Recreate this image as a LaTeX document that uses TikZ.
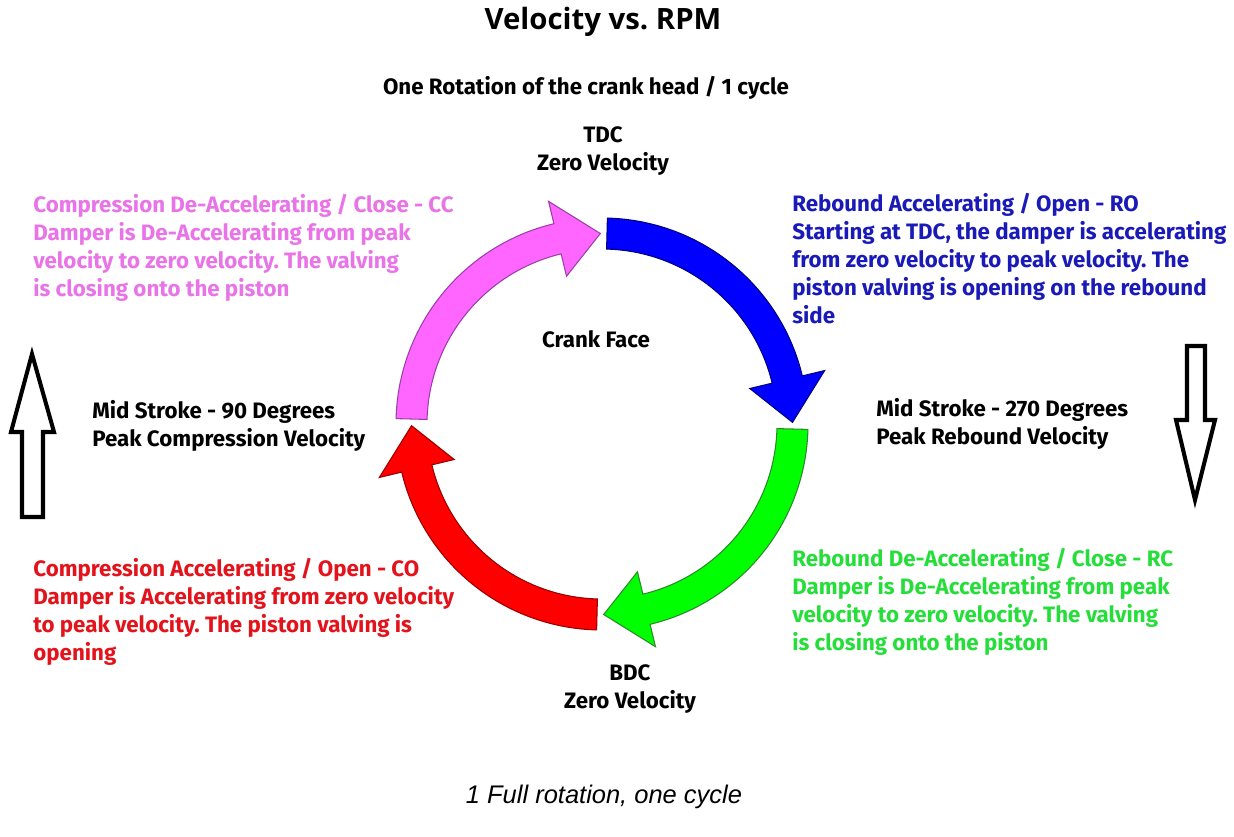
\documentclass[tikz,border=0pt]{standalone}
\usepackage{fontspec}
\setmainfont{Fira Sans}
\newfontfamily\titlefont{Open Sans}
\newfontfamily\capfont{Liberation Sans}
\usetikzlibrary{calc}
\frenchspacing

% Colours of the four quarters
\definecolor{pinkfill}{HTML}{FF66FF}
\definecolor{pinkline}{HTML}{9A3FA8}
\definecolor{pinktext}{HTML}{E874E8}
\definecolor{bluefill}{HTML}{0000FF}
\definecolor{blueline}{HTML}{000080}
\definecolor{bluetext}{HTML}{1A1AB8}
\definecolor{greenfill}{HTML}{00FF00}
\definecolor{greenline}{HTML}{2A8A2A}
\definecolor{greentext}{HTML}{26DE3A}
\definecolor{redfill}{HTML}{FF0000}
\definecolor{redline}{HTML}{990000}
\definecolor{redtext}{HTML}{E3131B}

% curved quarter arrow: start angle, end angle (clockwise), fill, outline
\newcommand{\crankarrow}[4]{%
  \draw[fill=#3,draw=#4,line width=0.6pt]
    (#1:\ro) arc[start angle=#1,end angle={#2+\hd},radius=\ro]
    -- ({#2+\hd}:\rho) -- (#2:\rm) -- ({#2+\hd}:\rhi)
    -- ({#2+\hd}:\ri) arc[start angle={#2+\hd},end angle=#1,radius=\ri] -- cycle;}

\begin{document}
\begin{tikzpicture}[x=0.02cm,y=0.02cm,
  note/.style={inner sep=0pt,anchor=north west,align=left,
    font=\bfseries\fontsize{12.7}{15.9}\selectfont},
  label/.style={inner sep=0pt,align=center,
    font=\bfseries\fontsize{12.7}{15.9}\selectfont},
  blockarrow/.style={draw=black,fill=white,line width=2.3pt,line join=miter}]

  \useasboundingbox[fill=white] (0,0) rectangle (1234,-836);

  % Circle parameters (pixels)
  \def\ro{206}     %outer radius.
  \def\ri{175}     %inner radius.
  \def\rm{190.5}   %middle radius, arrow tip.
  \def\rho{229}    %outer edge of head.
  \def\rhi{152}    %inner edge of head.
  \def\hd{13}      %head length in degrees.

  \coordinate (ctr) at (602,-424);

  % Four quarters of the cycle
  \begin{scope}[shift={(ctr)}]
    \crankarrow{88.5}{0.5}{bluefill}{blueline}
    \crankarrow{-1.5}{-89.5}{greenfill}{greenline}
    \crankarrow{-91.5}{-179.5}{redfill}{redline}
    \crankarrow{178.5}{90.5}{pinkfill}{pinkline}
  \end{scope}

  % Titles
  \node[font=\titlefont\bfseries\fontsize{16.7}{20}\selectfont] (title) at (603,-22) {Velocity vs.\ RPM};
  \node[label] (rot) at (586,-88) {One Rotation of the crank head / 1 cycle};
  \node[label] (tdc) at (603,-151) {TDC\\Zero Velocity};
  \node[label] (bdc) at (630,-689) {BDC\\Zero Velocity};
  \node[label] (face) at (596,-339) {Crank Face};

  % Quarter descriptions
  \node[note,text=pinktext] (cc) at (33,-194) {Compression De-Accelerating / Close - CC\\
    Damper is De-Accelerating from peak\\velocity to zero velocity. The valving\\is closing onto the piston};
  \node[note,text=bluetext] (ro) at (792,-193) {Rebound Accelerating / Open - RO\\
    Starting at TDC, the damper is accelerating\\from zero velocity to peak velocity. The\\
    piston valving is opening on the rebound\\side};
  \node[note,text=redtext] (co) at (33,-558) {Compression Accelerating / Open - CO\\
    Damper is Accelerating from zero velocity\\to peak velocity. The piston valving is\\opening};
  \node[note,text=greentext] (rc) at (792,-548) {Rebound De-Accelerating / Close - RC\\
    Damper is De-Accelerating from peak\\velocity to zero velocity. The valving\\is closing onto the piston};

  % Mid strokes
  \node[note] (mid90) at (92,-400) {Mid Stroke - 90 Degrees\\Peak Compression Velocity};
  \node[note] (mid270) at (876,-398) {Mid Stroke - 270 Degrees\\Peak Rebound Velocity};

  % Up and down block arrows
  \draw[blockarrow] (32,-354) -- (54,-432) -- (43,-432) -- (43,-517) -- (22,-517)
    -- (22,-432) -- (11,-432) -- cycle;
  \draw[blockarrow] (1187,-346) -- (1205,-346) -- (1205,-420) -- (1215,-420)
    -- (1195,-500) -- (1176,-420) -- (1187,-420) -- cycle;

  % Caption
  \node[font=\capfont\itshape\fontsize{14.5}{17}\selectfont] (cap) at (604,-797) {1 Full rotation, one cycle};
\end{tikzpicture}
\end{document}
